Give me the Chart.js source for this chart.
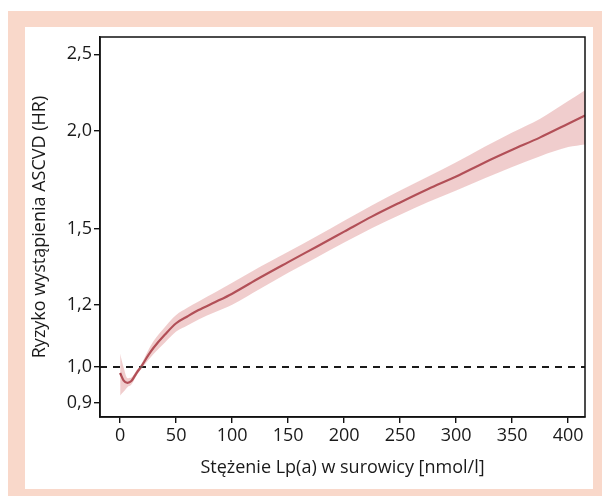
<!DOCTYPE html>
<html>
<head>
<meta charset="utf-8">
<script src="https://cdn.jsdelivr.net/npm/chart.js@4.4.0/dist/chart.umd.min.js"></script>
<style>
  html, body { margin: 0; padding: 0; background: #ffffff; }
  #wrap { position: relative; width: 602px; height: 496px; overflow: hidden; }
  #peach { position: absolute; left: 8px; top: 11px; width: 594px; height: 485px; background: #f9d8ca; }
  #panel { position: absolute; left: 25px; top: 27px; width: 568px; height: 462px; background: #ffffff; }
  #c { position: absolute; left: 0; top: 0; }
</style>
</head>
<body>
<div id="wrap">
  <div id="peach"></div>
  <div id="panel"></div>
  <canvas id="c" width="602" height="496"></canvas>
</div>
<script>
// ---- data ----
const lpaValues = [0, 3, 6.5, 10, 15, 18.5, 25, 30, 40, 50, 60, 70, 85, 100, 125, 150, 175, 200, 225, 250, 275, 300, 325, 350, 375, 400, 415];
const hrValues  = [0.983, 0.962, 0.955, 0.960, 0.985, 1.000, 1.035, 1.059, 1.100, 1.137, 1.160, 1.182, 1.210, 1.240, 1.300, 1.360, 1.422, 1.487, 1.555, 1.620, 1.685, 1.748, 1.820, 1.890, 1.960, 2.040, 2.090];
const hrLower   = [0.920, 0.930, 0.943, 0.950, 0.978, 0.993, 1.020, 1.040, 1.075, 1.110, 1.130, 1.150, 1.175, 1.200, 1.258, 1.318, 1.378, 1.440, 1.503, 1.563, 1.622, 1.678, 1.738, 1.797, 1.855, 1.905, 1.920];
const hrUpper   = [1.040, 1.000, 0.968, 0.970, 0.992, 1.007, 1.050, 1.080, 1.125, 1.165, 1.190, 1.212, 1.245, 1.280, 1.342, 1.402, 1.466, 1.535, 1.607, 1.677, 1.748, 1.822, 1.905, 1.988, 2.070, 2.180, 2.250];
const refLine   = [[-18, 1.0], [415, 1.0]];
const xTicks = [0, 50, 100, 150, 200, 250, 300, 350, 400];
const yTicks = [0.9, 1.0, 1.2, 1.5, 2.0, 2.5];
const xTitle = 'Stężenie Lp(a) w surowicy [nmol/l]';
const yTitle = 'Ryzyko wystąpienia ASCVD (HR)';

const pts = (ys) => lpaValues.map((x, i) => ({ x: x, y: ys[i] }));

const frame = {
  id: 'frame',
  afterDatasetsDraw(chart) {
    const a = chart.chartArea, ctx = chart.ctx;
    ctx.save();
    ctx.strokeStyle = '#111111';
    ctx.lineWidth = 1.5;
    ctx.strokeRect(a.left, a.top, a.right - a.left, a.bottom - a.top);
    ctx.restore();
  }
};

const FONT = "'Open Sans', 'Noto Sans', sans-serif";

new Chart(document.getElementById('c'), {
  type: 'line',
  data: {
    datasets: [
      { data: pts(hrUpper), borderWidth: 0, pointRadius: 0, fill: '+1',
        backgroundColor: 'rgba(222,145,145,0.45)', borderColor: 'rgba(0,0,0,0)', cubicInterpolationMode: 'monotone' },
      { data: pts(hrLower), borderWidth: 0, pointRadius: 0, fill: false,
        borderColor: 'rgba(0,0,0,0)', cubicInterpolationMode: 'monotone' },
      { data: refLine.map(p => ({ x: p[0], y: p[1] })), borderColor: '#1a1a1a', borderWidth: 2,
        borderDash: [7, 6], pointRadius: 0, fill: false },
      { data: pts(hrValues), borderColor: '#8e1b29', borderWidth: 2.2, pointRadius: 0, fill: false,
        cubicInterpolationMode: 'monotone' }
    ]
  },
  options: {
    responsive: false,
    animation: false,
    events: [],
    layout: { padding: { left: 0, right: 17, top: 37, bottom: 0 } },
    plugins: { legend: { display: false }, tooltip: { enabled: false } },
    scales: {
      x: {
        type: 'linear', min: -18, max: 415,
        afterFit: s => { s.height = 79; },
        afterBuildTicks: s => { s.ticks = xTicks.map(v => ({ value: v })); },
        grid: { drawOnChartArea: false, drawTicks: true, tickLength: 6, color: '#111', lineWidth: 1.4 },
        border: { display: true, color: '#111', width: 1.5 },
        ticks: { color: '#1a1a1a', font: { family: FONT, size: 18 }, padding: 2, maxRotation: 0, autoSkip: false },
        title: { display: true, text: xTitle, color: '#1a1a1a', font: { family: FONT, size: 18 }, padding: { top: 0, bottom: 17 } }
      },
      y: {
        type: 'logarithmic', min: 0.864, max: 2.63,
        afterFit: s => { s.width = 100; },
        afterBuildTicks: s => { s.ticks = yTicks.map(v => ({ value: v })); },
        grid: { drawOnChartArea: false, drawTicks: true, tickLength: 6, color: '#111', lineWidth: 1.4 },
        border: { display: true, color: '#111', width: 1.5 },
        ticks: { color: '#1a1a1a', font: { family: FONT, size: 18 }, padding: 2, autoSkip: false,
          callback: v => Number(v).toFixed(1).replace('.', ',') },
        title: { display: true, text: yTitle, color: '#1a1a1a', font: { family: FONT, size: 18 }, padding: { top: 29, bottom: 0 } }
      }
    }
  },
  plugins: [frame]
});
</script>
</body>
</html>
